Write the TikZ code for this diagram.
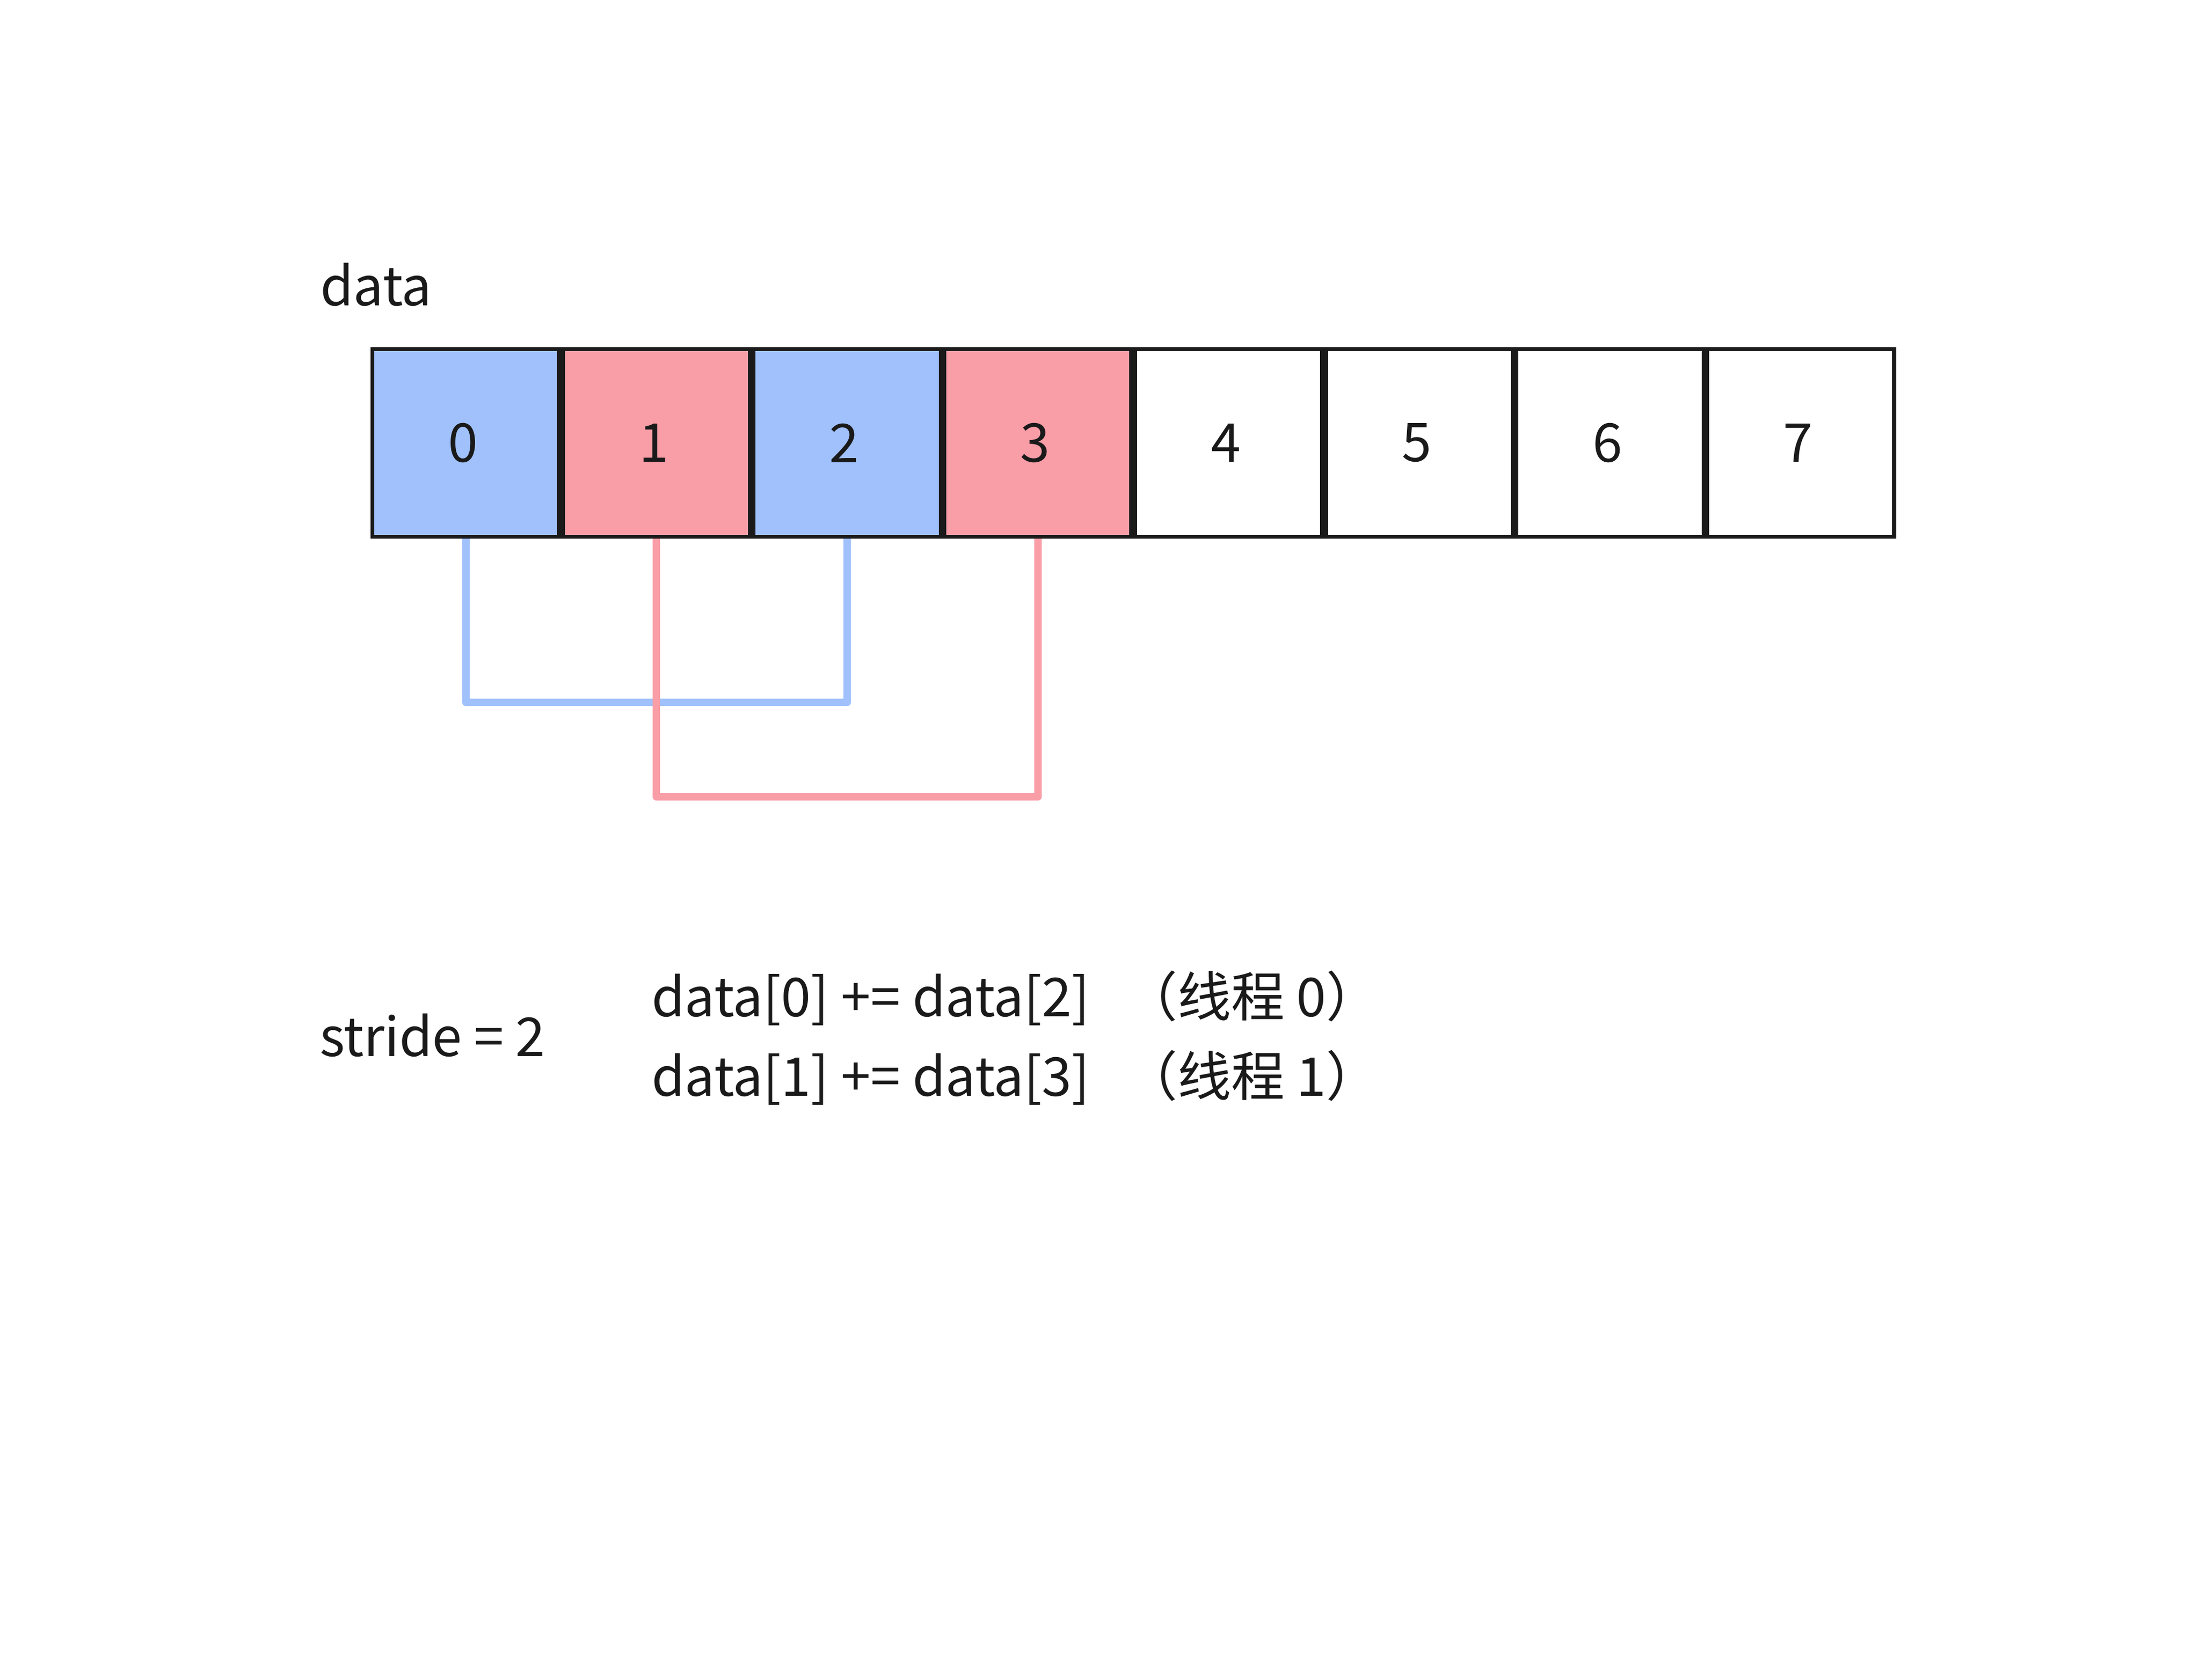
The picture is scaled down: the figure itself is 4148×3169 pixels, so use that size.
\documentclass[tikz,border=0pt]{standalone}
\usepackage{fontspec}
\setmainfont{Noto Sans CJK SC}
\definecolor{cellblue}{HTML}{A0C1FC}
\definecolor{cellpink}{HTML}{F99DA7}
\definecolor{ink}{HTML}{1A1A1A}
\newcommand{\celltxt}[1]{\kern-1pt #1\kern1pt}
\begin{document}
\begin{tikzpicture}[x=0.2pt,y=-0.2pt,
  cell/.style={draw=ink, line width=1.45pt, minimum width=70.5pt, minimum height=70.8pt,
    inner sep=0pt, outer sep=0pt, text=ink, font=\fontsize{20.2pt}{24pt}\selectfont},
  lbl/.style={anchor=base west, inner sep=0pt, outer sep=0pt, text=ink,
    font=\fontsize{20.2pt}{24pt}\selectfont},
  bluecon/.style={draw=cellblue, line width=2.8pt, line join=round, shorten <=0.7pt, shorten >=0.7pt},
  pinkcon/.style={draw=cellpink, line width=2.8pt, line join=round, shorten <=0.7pt, shorten >=0.7pt}]
\useasboundingbox (0,0) rectangle (4148,3169);
\fill[white] (0,0) rectangle (4148,3169);
% cells
\node[cell, fill=cellblue] (c0) at (878.5,835.5) {\celltxt{0}};
\node[cell, fill=cellpink] (c1) at (1238.25,835.5) {\celltxt{1}};
\node[cell, fill=cellblue] (c2) at (1598,835.5) {\celltxt{2}};
\node[cell, fill=cellpink] (c3) at (1957.75,835.5) {\celltxt{3}};
\node[cell, fill=white] (c4) at (2317.5,835.5) {\celltxt{4}};
\node[cell, fill=white] (c5) at (2677.25,835.5) {\celltxt{5}};
\node[cell, fill=white] (c6) at (3037,835.5) {\celltxt{6}};
\node[cell, fill=white] (c7) at (3396.75,835.5) {\celltxt{7}};
% connector levels
\coordinate (by) at (0,1325);
\coordinate (py) at (0,1503);
\draw[bluecon] (c0.south) -- (c0.south |- by) -- (c2.south |- by) -- (c2.south);
\draw[pinkcon] (c1.south) -- (c1.south |- py) -- (c3.south |- py) -- (c3.south);
% texts
\node[lbl] (datalbl) at (604,577) {data};
\node[lbl] (stride) at (603,1992) {stride = 2};
\node[lbl] (eq0) at (1229,1917) {data[0] += data[2]};
\node[lbl] (eq1) at (1229,2067) {data[1] += data[3]};
\node[lbl] (t0) at (2120,1917) {（线程 0）};
\node[lbl] (t1) at (2120,2067) {（线程 1）};
\end{tikzpicture}
\end{document}
